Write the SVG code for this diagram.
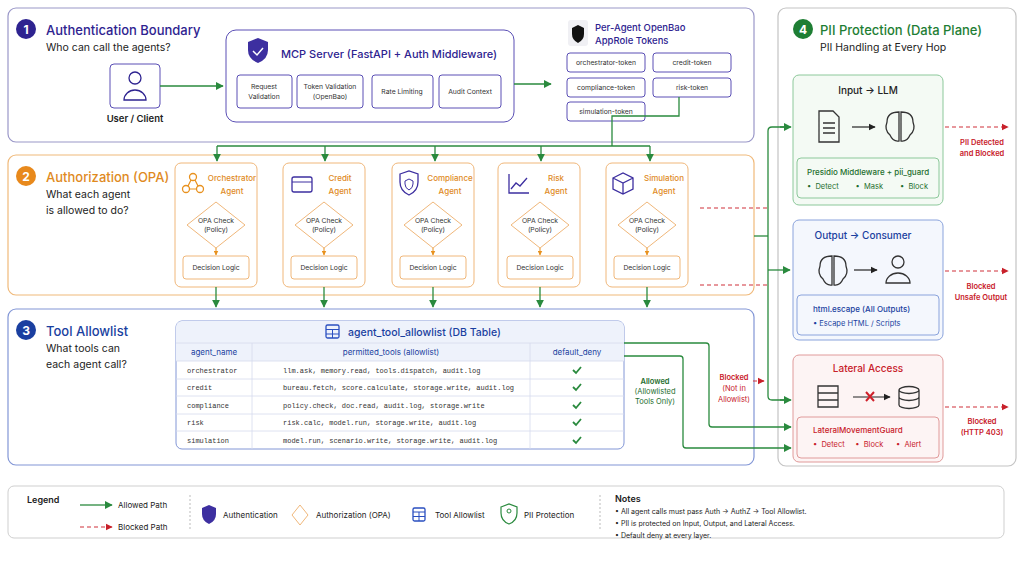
<svg xmlns="http://www.w3.org/2000/svg" width="1024" height="562" viewBox="0 0 1024 562">
<defs>
<style>
text{font-family:"Inter","Liberation Sans",sans-serif;fill:#222}
.sec{fill:#fff;stroke-width:1.2}
.t{font-size:13px;font-weight:500}
.sub{font-size:10.5px;fill:#222}
.s{font-size:6.8px;fill:#333}
.m{font-family:"Liberation Mono",monospace;font-size:7px;fill:#333}
.num{fill:#fff;font-size:12px;font-weight:700}
.pb{fill:#fff;stroke:#5a4fb5;stroke-width:1}
.card{fill:#fff;stroke:#f0b77a;stroke-width:1}
.or{fill:#e08a1e;font-size:8px;font-weight:500}
.g{stroke:#2a8a3e;stroke-width:1.3;fill:none}
.r{stroke:#d0303a;stroke-width:1.2;fill:none;stroke-dasharray:4 3}
.rt{fill:#c8202a;font-size:7.5px;font-weight:600}
.ico{fill:none;stroke:#333;stroke-width:1.3}
</style>
<marker id="ag" viewBox="0 0 10 10" refX="9" refY="5" markerWidth="6" markerHeight="6" orient="auto"><path d="M0,0L10,5L0,10z" fill="#2a8a3e"/></marker>
<marker id="ar" viewBox="0 0 10 10" refX="9" refY="5" markerWidth="6" markerHeight="6" orient="auto"><path d="M0,0L10,5L0,10z" fill="#c8202a"/></marker>
<marker id="ao" viewBox="0 0 10 10" refX="9" refY="5" markerWidth="5" markerHeight="5" orient="auto"><path d="M0,0L10,5L0,10z" fill="#e8911e"/></marker>
<marker id="ak" viewBox="0 0 10 10" refX="9" refY="5" markerWidth="6" markerHeight="6" orient="auto"><path d="M0,0L10,5L0,10z" fill="#222"/></marker>
</defs>
<rect width="1024" height="562" fill="#fff"/>

<!-- Section 1 -->
<g id="sec1">
<rect class="sec" x="8" y="8" width="746" height="134" rx="8" stroke="#9a97c8"/>
<circle cx="26" cy="29" r="10" fill="#2e2390"/><text class="num" x="26" y="33.5" text-anchor="middle">1</text>
<text class="t" x="46" y="35" style="fill:#2e2390">Authentication Boundary</text>
<text class="sub" x="46" y="51">Who can call the agents?</text>
</g>
<g id="user">
<rect class="pb" x="110" y="64" width="50" height="44" rx="4"/>
<circle class="ico" cx="135" cy="78" r="6" style="stroke:#2e2390"/>
<path class="ico" style="stroke:#2e2390" d="M124,100 a11,10 0 0 1 22,0 z"/>
<text x="135" y="122" text-anchor="middle" font-size="9.5" font-weight="600">User / Client</text>
</g>
<g id="mcp">
<rect class="pb" x="226" y="30" width="288" height="92" rx="10"/>
<path d="M248,42 l10,-4 l10,4 v8 q0,9 -10,13 q-10,-4 -10,-13z" fill="#3d2fa0"/>
<path d="M253,51 l4,4 l6,-7" stroke="#fff" fill="none" stroke-width="1.5"/>
<text x="281" y="58" font-size="11" font-weight="500" style="fill:#2e2390">MCP Server (FastAPI + Auth Middleware)</text>
<rect class="pb" x="237" y="75" width="55" height="33" rx="3"/>
<text class="s" x="264" y="89" text-anchor="middle">Request</text><text class="s" x="264" y="99" text-anchor="middle">Validation</text>
<rect class="pb" x="297" y="75" width="66" height="33" rx="3"/>
<text class="s" x="330" y="89" text-anchor="middle">Token Validation</text><text class="s" x="330" y="99" text-anchor="middle">(OpenBao)</text>
<rect class="pb" x="372" y="75" width="61" height="33" rx="3"/>
<text class="s" x="402" y="94" text-anchor="middle">Rate Limiting</text>
<rect class="pb" x="439" y="75" width="62" height="33" rx="3"/>
<text class="s" x="470" y="94" text-anchor="middle">Audit Context</text>
</g>
<g id="tokens">
<rect x="568" y="20" width="20" height="26" rx="3" fill="#f0f0f4"/>
<path d="M572,28 l6,-3 l6,3 v6 q0,6 -6,9 q-6,-3 -6,-9z" fill="#111"/>
<text x="595" y="31" font-size="9.5" font-weight="500" style="fill:#2e2390">Per-Agent OpenBao</text>
<text x="595" y="44" font-size="9.5" font-weight="500" style="fill:#2e2390">AppRole Tokens</text>
<rect class="pb" x="567" y="53" width="78" height="19" rx="3"/><text class="s" x="606" y="65" text-anchor="middle">orchestrator-token</text>
<rect class="pb" x="653" y="53" width="78" height="19" rx="3"/><text class="s" x="692" y="65" text-anchor="middle">credit-token</text>
<rect class="pb" x="567" y="78" width="78" height="19" rx="3"/><text class="s" x="606" y="90" text-anchor="middle">compliance-token</text>
<rect class="pb" x="653" y="78" width="78" height="19" rx="3"/><text class="s" x="692" y="90" text-anchor="middle">risk-token</text>
<rect class="pb" x="567" y="102" width="78" height="19" rx="3"/><text class="s" x="606" y="114" text-anchor="middle">simulation-token</text>
</g>

<!-- Section 2 -->
<g id="sec2">
<rect class="sec" x="8" y="155" width="746" height="140" rx="8" stroke="#f0b97a"/>
<circle cx="26" cy="176" r="10" fill="#e8891c"/><text class="num" x="26" y="180.5" text-anchor="middle">2</text>
<text class="t" x="46" y="182" style="fill:#e08a1e">Authorization (OPA)</text>
<text class="sub" x="46" y="198">What each agent</text>
<text class="sub" x="46" y="214">is allowed to do?</text>
</g>
<g id="agent-orch">
<rect class="card" x="175" y="163" width="82" height="124" rx="6"/>
<circle cx="193" cy="177" r="3.5" fill="none" stroke="#e8911e" stroke-width="1.3"/><circle cx="186" cy="189" r="3.5" fill="none" stroke="#e8911e" stroke-width="1.3"/><circle cx="200" cy="189" r="3.5" fill="none" stroke="#e8911e" stroke-width="1.3"/><path d="M191,180l-3,6M195,180l3,6M189.5,189h7" stroke="#e8911e" stroke-width="1.2"/>
<text class="or" x="232" y="181" text-anchor="middle">Orchestrator</text><text class="or" x="232" y="194" text-anchor="middle">Agent</text>
<path class="card" d="M216,202 l29,23 l-29,23 l-29,-23z"/><text class="s" x="216" y="223" text-anchor="middle">OPA Check</text><text class="s" x="216" y="232" text-anchor="middle">(Policy)</text>
<line x1="216" y1="248" x2="216" y2="255" stroke="#e8911e" marker-end="url(#ao)"/>
<rect class="card" x="183" y="256" width="66" height="23" rx="3"/><text class="s" x="216" y="270" text-anchor="middle">Decision Logic</text>
</g>
<g id="agent-credit">
<rect class="card" x="283" y="163" width="82" height="124" rx="6"/>
<rect x="292" y="177" width="20" height="15" rx="2" fill="none" stroke="#3d2fa0" stroke-width="1.3"/><line x1="292" y1="182" x2="312" y2="182" stroke="#3d2fa0"/>
<text class="or" x="340" y="181" text-anchor="middle">Credit</text><text class="or" x="340" y="194" text-anchor="middle">Agent</text>
<path class="card" d="M324,202 l29,23 l-29,23 l-29,-23z"/><text class="s" x="324" y="223" text-anchor="middle">OPA Check</text><text class="s" x="324" y="232" text-anchor="middle">(Policy)</text>
<line x1="324" y1="248" x2="324" y2="255" stroke="#e8911e" marker-end="url(#ao)"/>
<rect class="card" x="291" y="256" width="66" height="23" rx="3"/><text class="s" x="324" y="270" text-anchor="middle">Decision Logic</text>
</g>
<g id="agent-compliance">
<rect class="card" x="392" y="163" width="82" height="124" rx="6"/>
<path d="M400,174 l9,-3 l9,3 v8 q0,9 -9,13 q-9,-4 -9,-13z" fill="none" stroke="#3d2fa0" stroke-width="1.3"/><path d="M409,179 l4,2 v3 q0,4 -4,6 q-4,-2 -4,-6 v-3z" fill="none" stroke="#3d2fa0"/>
<text class="or" x="450" y="181" text-anchor="middle">Compliance</text><text class="or" x="450" y="194" text-anchor="middle">Agent</text>
<path class="card" d="M433,202 l29,23 l-29,23 l-29,-23z"/><text class="s" x="433" y="223" text-anchor="middle">OPA Check</text><text class="s" x="433" y="232" text-anchor="middle">(Policy)</text>
<line x1="433" y1="248" x2="433" y2="255" stroke="#e8911e" marker-end="url(#ao)"/>
<rect class="card" x="400" y="256" width="66" height="23" rx="3"/><text class="s" x="433" y="270" text-anchor="middle">Decision Logic</text>
</g>
<g id="agent-risk">
<rect class="card" x="498" y="163" width="82" height="124" rx="6"/>
<path d="M509,174 v19 h20 M511,189 l5,-6 l4,3 l7,-8" fill="none" stroke="#3d2fa0" stroke-width="1.3"/>
<text class="or" x="556" y="181" text-anchor="middle">Risk</text><text class="or" x="556" y="194" text-anchor="middle">Agent</text>
<path class="card" d="M540,202 l29,23 l-29,23 l-29,-23z"/><text class="s" x="540" y="223" text-anchor="middle">OPA Check</text><text class="s" x="540" y="232" text-anchor="middle">(Policy)</text>
<line x1="540" y1="248" x2="540" y2="255" stroke="#e8911e" marker-end="url(#ao)"/>
<rect class="card" x="507" y="256" width="66" height="23" rx="3"/><text class="s" x="540" y="270" text-anchor="middle">Decision Logic</text>
</g>
<g id="agent-sim">
<rect class="card" x="606" y="163" width="82" height="124" rx="6"/>
<path d="M613,178 l10,-5 l10,5 v11 l-10,5 l-10,-5z M613,178 l10,5 l10,-5 M623,183 v11" fill="none" stroke="#3d2fa0" stroke-width="1.3"/>
<text class="or" x="664" y="181" text-anchor="middle">Simulation</text><text class="or" x="664" y="194" text-anchor="middle">Agent</text>
<path class="card" d="M647,202 l29,23 l-29,23 l-29,-23z"/><text class="s" x="647" y="223" text-anchor="middle">OPA Check</text><text class="s" x="647" y="232" text-anchor="middle">(Policy)</text>
<line x1="647" y1="248" x2="647" y2="255" stroke="#e8911e" marker-end="url(#ao)"/>
<rect class="card" x="614" y="256" width="66" height="23" rx="3"/><text class="s" x="647" y="270" text-anchor="middle">Decision Logic</text>
</g>

<!-- Section 3 -->
<g id="sec3">
<rect class="sec" x="8" y="309" width="746" height="156" rx="8" stroke="#8296d6"/>
<circle cx="26" cy="330" r="10" fill="#1a3fa0"/><text class="num" x="26" y="334.5" text-anchor="middle">3</text>
<text class="t" x="46" y="336" style="fill:#1a3fa0">Tool Allowlist</text>
<text class="sub" x="46" y="352">What tools can</text>
<text class="sub" x="46" y="368">each agent call?</text>
</g>
<g id="table">
<rect x="176" y="321" width="448" height="128" rx="6" fill="#fff" stroke="#8296d6"/>
<path d="M182,321 h436 a6,6 0 0 1 6,6 v16 h-448 v-16 a6,6 0 0 1 6,-6z" fill="#eef2fb"/>
<rect x="176" y="343" width="448" height="18" fill="#eef2fb"/>
<rect x="326" y="325" width="13" height="13" rx="1.5" fill="none" stroke="#2a4fc0" stroke-width="1.3"/><path d="M326,329.5h13M326,334h13M332.5,329.5v8.5" stroke="#2a4fc0"/>
<text x="348" y="336" font-size="10.5" font-weight="500" style="fill:#1a3fa0">agent_tool_allowlist (DB Table)</text>
<g stroke="#d5dbee" stroke-width="0.8">
<line x1="176" y1="343" x2="624" y2="343"/><line x1="176" y1="361" x2="624" y2="361"/><line x1="176" y1="379" x2="624" y2="379"/><line x1="176" y1="396" x2="624" y2="396"/><line x1="176" y1="414" x2="624" y2="414"/><line x1="176" y1="431" x2="624" y2="431"/>
<line x1="252" y1="343" x2="252" y2="449"/><line x1="530" y1="343" x2="530" y2="449"/>
</g>
<text x="214" y="355" text-anchor="middle" font-size="8" style="fill:#1a3fa0">agent_name</text>
<text x="391" y="355" text-anchor="middle" font-size="8" style="fill:#1a3fa0">permitted_tools (allowlist)</text>
<text x="577" y="355" text-anchor="middle" font-size="8" style="fill:#1a3fa0">default_deny</text>
<text class="m" x="187" y="373">orchestrator</text><text class="m" x="283" y="373">llm.ask, memory.read, tools.dispatch, audit.log</text>
<text class="m" x="187" y="390">credit</text><text class="m" x="283" y="390">bureau.fetch, score.calculate, storage.write, audit.log</text>
<text class="m" x="187" y="408">compliance</text><text class="m" x="283" y="408">policy.check, doc.read, audit.log, storage.write</text>
<text class="m" x="187" y="425">risk</text><text class="m" x="283" y="425">risk.calc, model.run, storage.write, audit.log</text>
<text class="m" x="187" y="443">simulation</text><text class="m" x="283" y="443">model.run, scenario.write, storage.write, audit.log</text>
<g stroke="#2a8a3e" stroke-width="1.8" fill="none">
<path d="M573,370 l3,3 l5,-6"/><path d="M573,387 l3,3 l5,-6"/><path d="M573,405 l3,3 l5,-6"/><path d="M573,422 l3,3 l5,-6"/><path d="M573,440 l3,3 l5,-6"/>
</g>
</g>

<!-- Section 4 -->
<g id="sec4">
<rect class="sec" x="778" y="8" width="238" height="458" rx="8" stroke="#c4c4c4"/>
<circle cx="803" cy="29" r="10" fill="#1e7e34"/><text class="num" x="803" y="33.5" text-anchor="middle">4</text>
<text class="t" x="820" y="35" style="fill:#1e7e34">PII Protection (Data Plane)</text>
<text class="sub" x="820" y="51">PII Handling at Every Hop</text>
</g>
<g id="input-llm">
<rect x="793" y="75" width="150" height="130" rx="6" fill="#f4faf4" stroke="#8cc89a"/>
<text x="868" y="94" text-anchor="middle" font-size="10" font-weight="500">Input → LLM</text>
<path class="ico" d="M819,111 h14 l6,6 v25 h-20z M823,123h12M823,128h12M823,133h12"/>
<line x1="852" y1="127" x2="875" y2="127" stroke="#222" stroke-width="1.2" marker-end="url(#ak)"/>
<path class="ico" d="M899,112 q-12,0 -12,10 q-3,8 3,13 q3,7 9,6 z M901,112 q12,0 12,10 q3,8 -3,13 q-3,7 -9,6 z"/>
<rect x="797" y="158" width="142" height="40" rx="4" fill="#f4faf4" stroke="#8cc89a"/>
<text x="807" y="175" font-size="8" font-weight="500" style="fill:#1e6e2e">Presidio Middleware + pii_guard</text>
<text x="807" y="189" font-size="7.5" style="fill:#1e6e2e" xml:space="preserve">•  Detect        •  Mask        •  Block</text>
</g>
<g id="output-consumer">
<rect x="793" y="220" width="150" height="120" rx="6" fill="#f4f7fd" stroke="#8aa3dc"/>
<text x="863" y="239" text-anchor="middle" font-size="10" font-weight="500" style="fill:#1a3fa0">Output → Consumer</text>
<path class="ico" d="M832,256 q-12,0 -12,10 q-3,8 3,13 q3,7 9,6 z M834,256 q12,0 12,10 q3,8 -3,13 q-3,7 -9,6 z"/>
<line x1="854" y1="270" x2="877" y2="270" stroke="#222" stroke-width="1.2" marker-end="url(#ak)"/>
<circle class="ico" cx="898" cy="262" r="6"/><path class="ico" d="M886,283 a12,10 0 0 1 24,0z"/>
<rect x="797" y="295" width="142" height="40" rx="4" fill="#f4f7fd" stroke="#8aa3dc"/>
<text x="813" y="312" font-size="8" font-weight="500" style="fill:#1a3fa0">html.escape (All Outputs)</text>
<text x="813" y="326" font-size="7.5" style="fill:#1a3fa0">•  Escape HTML / Scripts</text>
</g>
<g id="lateral">
<rect x="793" y="355" width="150" height="107" rx="6" fill="#fdf4f4" stroke="#e09a9a"/>
<text x="868" y="372" text-anchor="middle" font-size="10" font-weight="500" style="fill:#c8202a">Lateral Access</text>
<path class="ico" d="M818,386h20v7h-20zM818,393h20v7h-20zM818,400h20v7h-20z"/>
<line x1="853" y1="397" x2="890" y2="397" stroke="#222" stroke-width="1.2" marker-end="url(#ak)"/>
<path d="M866,392 l8,9 M874,392 l-8,9" stroke="#d0202a" stroke-width="2"/>
<path class="ico" d="M899,390 a10,3.5 0 0 1 20,0 v15 a10,3.5 0 0 1 -20,0z M899,390 a10,3.5 0 0 0 20,0 M899,397 a10,3.5 0 0 0 20,0"/>
<rect x="797" y="417" width="142" height="41" rx="4" fill="#fdf4f4" stroke="#e09a9a"/>
<text x="813" y="433" font-size="8" font-weight="500" style="fill:#c8202a">LateralMovementGuard</text>
<text x="813" y="447" font-size="7.5" style="fill:#c8202a" xml:space="preserve">•  Detect     •  Block      •  Alert</text>
</g>

<!-- Connectors -->
<g id="connectors">
<line class="g" x1="160" y1="86" x2="223" y2="86" marker-end="url(#ag)"/>
<line class="g" x1="514" y1="84" x2="551" y2="84" marker-end="url(#ag)"/>
<path class="g" d="M679,97 V116 H612 V146"/>
<path class="g" d="M217,146 H650"/>
<path class="g" d="M217,146 V161" marker-end="url(#ag)"/>
<path class="g" d="M325,146 V161" marker-end="url(#ag)"/>
<path class="g" d="M435,146 V161" marker-end="url(#ag)"/>
<path class="g" d="M541,146 V161" marker-end="url(#ag)"/>
<path class="g" d="M650,146 V161" marker-end="url(#ag)"/>
<path class="g" d="M216,287 V307" marker-end="url(#ag)"/>
<path class="g" d="M324,287 V307" marker-end="url(#ag)"/>
<path class="g" d="M433,287 V307" marker-end="url(#ag)"/>
<path class="g" d="M540,287 V307" marker-end="url(#ag)"/>
<path class="g" d="M647,287 V307" marker-end="url(#ag)"/>
<path class="g" d="M754,236 H768"/>
<path class="g" d="M790,127 H772 q-4,0 -4,4 V396 q0,4 4,4 H790"/>
<path class="g" d="M768,270 H790" marker-end="url(#ag)"/>
<path class="g" d="M780,127 H791" marker-end="url(#ag)"/>
<path class="g" d="M780,400 H791" marker-end="url(#ag)"/>
<path class="g" d="M624,343 H706 q3,0 3,3 V424 q0,3 3,3 H791" marker-end="url(#ag)"/>
<path class="g" d="M624,356 H680 q3,0 3,3 V445 q0,3 3,3 H791" marker-end="url(#ag)"/>
<path class="r" d="M700,208 H768"/>
<path class="r" d="M700,285 H768"/>
<path class="r" d="M753,381 H764" marker-end="url(#ar)"/>
<path class="r" d="M945,127 H1008" marker-end="url(#ar)"/>
<path class="r" d="M945,271 H1008" marker-end="url(#ar)"/>
<path class="r" d="M945,407 H1008" marker-end="url(#ar)"/>
<text x="655" y="384" text-anchor="middle" font-size="7.5" font-weight="600" style="fill:#1e6e2e">Allowed</text>
<text x="655" y="394" text-anchor="middle" font-size="7.5" style="fill:#1e6e2e">(Allowlisted</text>
<text x="655" y="404" text-anchor="middle" font-size="7.5" style="fill:#1e6e2e">Tools Only)</text>
<text class="rt" x="734" y="380" text-anchor="middle">Blocked</text>
<text class="rt" x="734" y="391" text-anchor="middle" style="font-weight:400">(Not in</text>
<text class="rt" x="734" y="402" text-anchor="middle" style="font-weight:400">Allowlist)</text>
<text class="rt" x="982" y="145" text-anchor="middle">PII Detected</text>
<text class="rt" x="982" y="156" text-anchor="middle">and Blocked</text>
<text class="rt" x="981" y="289" text-anchor="middle">Blocked</text>
<text class="rt" x="981" y="300" text-anchor="middle">Unsafe Output</text>
<text class="rt" x="982" y="424" text-anchor="middle">Blocked</text>
<text class="rt" x="982" y="435" text-anchor="middle">(HTTP 403)</text>
</g>

<!-- Legend -->
<g id="legend">
<rect x="8" y="486" width="996" height="52" rx="6" fill="#fff" stroke="#cfcfcf"/>
<text x="27" y="503" font-size="9" font-weight="600">Legend</text>
<line class="g" x1="80" y1="505" x2="112" y2="505" marker-end="url(#ag)"/>
<text x="118" y="508" font-size="8">Allowed Path</text>
<line class="r" x1="80" y1="527" x2="112" y2="527" marker-end="url(#ar)"/>
<text x="118" y="530" font-size="8">Blocked Path</text>
<line x1="190" y1="495" x2="190" y2="530" stroke="#bbb" stroke-dasharray="2 2"/>
<path d="M202,508 l7,-3 l7,3 v6 q0,7 -7,10 q-7,-3 -7,-10z" fill="#3d2fa0"/>
<text x="223" y="518" font-size="8">Authentication</text>
<path d="M300,505 l8,10 l-8,10 l-8,-10z" fill="#fff" stroke="#f0b77a"/>
<text x="316" y="518" font-size="8">Authorization (OPA)</text>
<rect x="413" y="508" width="12" height="13" rx="1.5" fill="#fff" stroke="#2a4fc0" stroke-width="1.3"/><path d="M413,512h12M413,516.5h12M419,512v9" stroke="#2a4fc0"/>
<text x="435" y="518" font-size="8">Tool Allowlist</text>
<path d="M501,507 l8,-3 l8,3 v6 q0,8 -8,11 q-8,-3 -8,-11z" fill="#fff" stroke="#2a8a3e" stroke-width="1.2"/><circle cx="509" cy="511" r="2" fill="none" stroke="#2a8a3e"/>
<text x="524" y="518" font-size="8">PII Protection</text>
<line x1="600" y1="495" x2="600" y2="530" stroke="#bbb" stroke-dasharray="2 2"/>
<text x="615" y="502" font-size="9" font-weight="600">Notes</text>
<text x="615" y="514" font-size="7">•  All agent calls must pass Auth → AuthZ → Tool Allowlist.</text>
<text x="615" y="526" font-size="7">•  PII is protected on Input, Output, and Lateral Access.</text>
<text x="615" y="538" font-size="7">•  Default deny at every layer.</text>
</g>
</svg>
